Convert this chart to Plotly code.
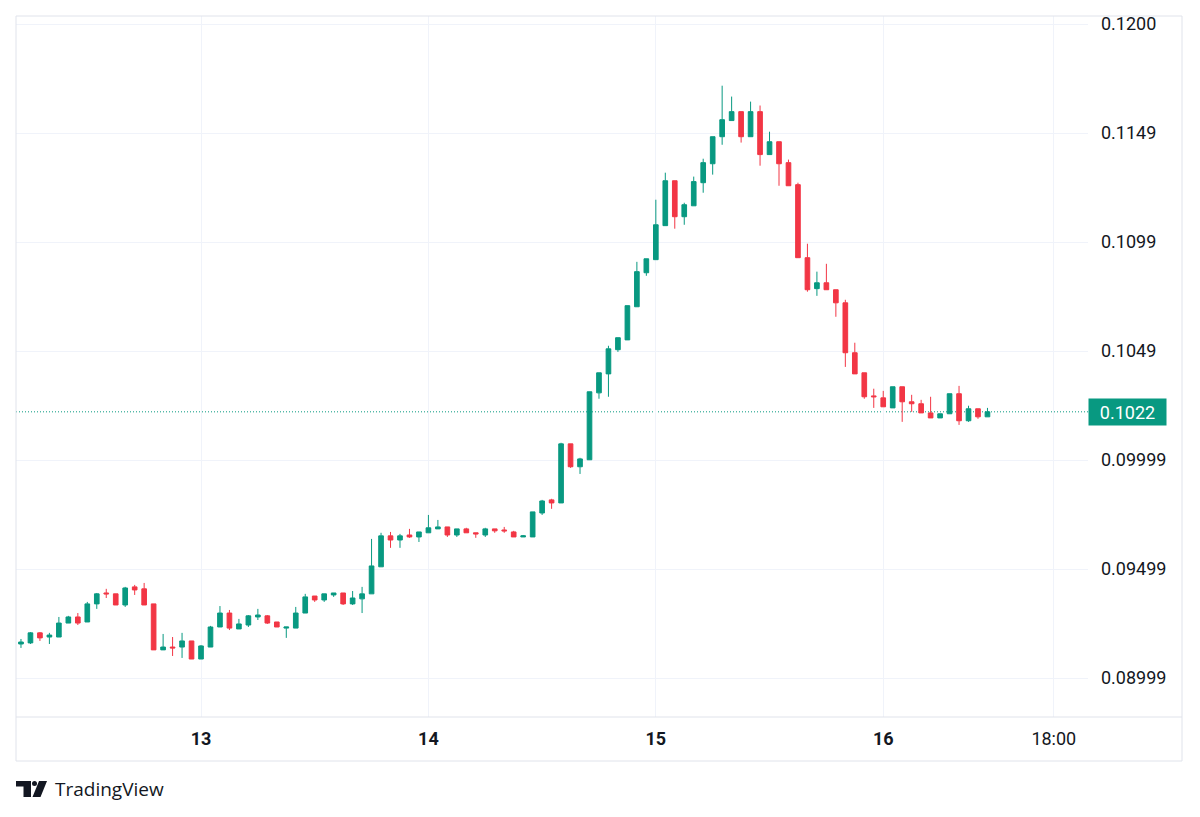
import pandas as pd
import plotly.graph_objects as go

# ---------------- data (hourly candles) ----------------
open_ = [0.09155, 0.09160, 0.09206, 0.09187, 0.09187, 0.09251, 0.09279, 0.09256, 0.09339, 0.09389,
         0.09385, 0.09334, 0.09417, 0.09408, 0.09339, 0.09128, 0.09141, 0.09141, 0.09169, 0.09086,
         0.09141, 0.09233, 0.09297, 0.09224, 0.09242, 0.09279, 0.09284, 0.09256, 0.09228, 0.09228,
         0.09297, 0.09375, 0.09357, 0.09380, 0.09389, 0.09339, 0.09362, 0.09385, 0.09509, 0.09651,
         0.09632, 0.09655, 0.09646, 0.09665, 0.09683, 0.09692, 0.09655, 0.09683, 0.09665, 0.09655,
         0.09683, 0.09678, 0.09669, 0.09646, 0.09646, 0.09756, 0.09816, 0.09802, 0.10073, 0.09968,
         0.10000, 0.10307, 0.10394, 0.10505, 0.10550, 0.10702, 0.10858, 0.10918, 0.11074, 0.11280,
         0.11115, 0.11165, 0.11271, 0.11358, 0.11482, 0.11556, 0.11597, 0.11482, 0.11597, 0.11400,
         0.11459, 0.11363, 0.11262, 0.10927, 0.10785, 0.10812, 0.10780, 0.10720, 0.10491, 0.10399,
         0.10293, 0.10284, 0.10238, 0.10335, 0.10266, 0.10257, 0.10215, 0.10192, 0.10211, 0.10303,
         0.10179, 0.10234, 0.10197]
high = [0.09178, 0.09210, 0.09210, 0.09206, 0.09279, 0.09284, 0.09297, 0.09348, 0.09389, 0.09408,
        0.09385, 0.09417, 0.09426, 0.09435, 0.09339, 0.09201, 0.09187, 0.09206, 0.09169, 0.09150,
        0.09238, 0.09329, 0.09311, 0.09270, 0.09288, 0.09316, 0.09288, 0.09256, 0.09233, 0.09325,
        0.09385, 0.09375, 0.09385, 0.09389, 0.09389, 0.09398, 0.09417, 0.09637, 0.09665, 0.09669,
        0.09660, 0.09683, 0.09669, 0.09747, 0.09724, 0.09692, 0.09683, 0.09688, 0.09665, 0.09688,
        0.09683, 0.09692, 0.09674, 0.09655, 0.09761, 0.09816, 0.09821, 0.10078, 0.10073, 0.10009,
        0.10312, 0.10399, 0.10523, 0.10560, 0.10707, 0.10908, 0.10922, 0.11193, 0.11317, 0.11280,
        0.11179, 0.11299, 0.11381, 0.11482, 0.11716, 0.11666, 0.11597, 0.11643, 0.11625, 0.11505,
        0.11459, 0.11377, 0.11271, 0.10991, 0.10863, 0.10899, 0.10780, 0.10734, 0.10537, 0.10399,
        0.10326, 0.10316, 0.10335, 0.10335, 0.10298, 0.10275, 0.10289, 0.10211, 0.10303, 0.10339,
        0.10248, 0.10234, 0.10238]
low = [0.09137, 0.09155, 0.09169, 0.09155, 0.09187, 0.09251, 0.09242, 0.09256, 0.09316, 0.09366,
       0.09334, 0.09325, 0.09380, 0.09334, 0.09128, 0.09128, 0.09100, 0.09091, 0.09086, 0.09086,
       0.09141, 0.09233, 0.09219, 0.09224, 0.09233, 0.09265, 0.09247, 0.09233, 0.09183, 0.09228,
       0.09297, 0.09348, 0.09348, 0.09371, 0.09334, 0.09334, 0.09297, 0.09385, 0.09509, 0.09596,
       0.09596, 0.09642, 0.09623, 0.09665, 0.09683, 0.09646, 0.09646, 0.09665, 0.09642, 0.09646,
       0.09665, 0.09665, 0.09646, 0.09646, 0.09646, 0.09747, 0.09775, 0.09802, 0.09963, 0.09935,
       0.10000, 0.10280, 0.10289, 0.10495, 0.10550, 0.10702, 0.10844, 0.10918, 0.11074, 0.11060,
       0.11078, 0.11165, 0.11225, 0.11308, 0.11445, 0.11556, 0.11455, 0.11482, 0.11349, 0.11400,
       0.11257, 0.11257, 0.10927, 0.10771, 0.10752, 0.10780, 0.10656, 0.10426, 0.10394, 0.10280,
       0.10238, 0.10243, 0.10238, 0.10174, 0.10220, 0.10215, 0.10192, 0.10192, 0.10211, 0.10160,
       0.10174, 0.10188, 0.10197]
close = [0.09164, 0.09206, 0.09183, 0.09196, 0.09251, 0.09279, 0.09251, 0.09339, 0.09385, 0.09385,
         0.09334, 0.09412, 0.09403, 0.09334, 0.09128, 0.09141, 0.09137, 0.09169, 0.09086, 0.09146,
         0.09233, 0.09297, 0.09228, 0.09247, 0.09284, 0.09288, 0.09251, 0.09233, 0.09233, 0.09297,
         0.09371, 0.09357, 0.09385, 0.09389, 0.09339, 0.09366, 0.09385, 0.09513, 0.09651, 0.09632,
         0.09651, 0.09646, 0.09669, 0.09688, 0.09692, 0.09655, 0.09683, 0.09665, 0.09660, 0.09683,
         0.09674, 0.09674, 0.09646, 0.09651, 0.09761, 0.09811, 0.09802, 0.10073, 0.09968, 0.10004,
         0.10312, 0.10399, 0.10509, 0.10560, 0.10707, 0.10863, 0.10922, 0.11078, 0.11280, 0.11115,
         0.11170, 0.11276, 0.11363, 0.11482, 0.11560, 0.11597, 0.11482, 0.11597, 0.11400, 0.11459,
         0.11358, 0.11257, 0.10927, 0.10780, 0.10812, 0.10780, 0.10720, 0.10491, 0.10394, 0.10289,
         0.10289, 0.10243, 0.10335, 0.10266, 0.10257, 0.10215, 0.10192, 0.10211, 0.10303, 0.10179,
         0.10234, 0.10197, 0.10220]

start_time = "2025-03-12 05:00"
times = pd.date_range(start_time, periods=len(open_), freq="h")

y_tickvals = [0.08999, 0.09499, 0.09999, 0.10499, 0.10999, 0.11499, 0.11999]
y_ticktext = ["0.08999", "0.09499", "0.09999", "0.1049", "0.1099", "0.1149", "0.1200"]
x_tickvals = ["2025-03-13", "2025-03-14", "2025-03-15", "2025-03-16", "2025-03-16 18:00"]
x_ticktext = ["<b>13</b>", "<b>14</b>", "<b>15</b>", "<b>16</b>", "18:00"]
last_price = 0.1022
last_label = "0.1022"

UP = "#089981"
DOWN = "#F23645"
TXT = "#131722"
GRID = "#f0f3fa"
BORDER = "#e0e3eb"
FONT = "Roboto, sans-serif"

# ---------------- layout geometry (pixels) ----------------
W, H = 1200, 817
L, R, T, B = 16, 1088, 16, 717


def px(x):
    return (x - L) / (R - L)


def py(y):
    return (B - y) / (B - T)


t0 = pd.Timestamp("2025-03-13")
x_range = [t0 - pd.Timedelta(hours=19.525), t0 + pd.Timedelta(hours=93.61)]
y_range = [0.088201, 0.120357]

fig = go.Figure()
fig.add_trace(go.Candlestick(
    x=times, open=open_, high=high, low=low, close=close,
    increasing=dict(line=dict(color=UP, width=1), fillcolor=UP),
    decreasing=dict(line=dict(color=DOWN, width=1), fillcolor=DOWN),
    whiskerwidth=0, showlegend=False,
))

shapes = []
# dotted last-price line
shapes.append(dict(type="line", xref="paper", yref="y", x0=0, x1=1,
                   y0=last_price, y1=last_price,
                   line=dict(color=UP, width=1, dash="1px,2px"), layer="below"))
# outer frame
shapes.append(dict(type="rect", xref="paper", yref="paper", x0=0, x1=px(1182),
                   y0=py(761), y1=1, line=dict(color=BORDER, width=1)))
# time-axis separator
shapes.append(dict(type="line", xref="paper", yref="paper", x0=0, x1=px(1182),
                   y0=0, y1=0, line=dict(color=BORDER, width=1)))

# TradingView logo glyph
def path(points):
    s = "M " + " L ".join(f"{px(a)},{py(b)}" for a, b in points) + " Z"
    return s

shapes.append(dict(type="path", xref="paper", yref="paper",
                   path=path([(16, 781), (31, 781), (31, 797), (23.5, 797), (23.5, 786.5), (16, 786.5)]),
                   fillcolor=TXT, line=dict(width=0)))
shapes.append(dict(type="circle", xref="paper", yref="paper",
                   x0=px(32), x1=px(37), y0=py(786), y1=py(781),
                   fillcolor=TXT, line=dict(width=0)))
shapes.append(dict(type="path", xref="paper", yref="paper",
                   path=path([(39, 781), (47, 781), (40.5, 797), (32.5, 797)]),
                   fillcolor=TXT, line=dict(width=0)))

annotations = [
    dict(xref="paper", yref="y", x=1, y=last_price, xanchor="left", yanchor="middle",
         text=last_label, showarrow=False, bgcolor=UP, width=73, height=22,
         borderpad=2, align="center",
         font=dict(family=FONT, size=18, color="white")),
    dict(xref="paper", yref="paper", x=px(53), y=py(789), xanchor="left", yanchor="middle",
         text="TradingView", showarrow=False,
         font=dict(family="Open Sans, sans-serif", size=19, color=TXT)),
]

fig.update_layout(
    width=W, height=H,
    margin=dict(l=L, r=W - R, t=T, b=H - B, pad=0),
    paper_bgcolor="white", plot_bgcolor="white",
    shapes=shapes, annotations=annotations,
    showlegend=False,
    xaxis=dict(
        type="date", range=x_range, rangeslider=dict(visible=False),
        tickvals=x_tickvals, ticktext=x_ticktext,
        showgrid=True, gridcolor=GRID, gridwidth=1,
        zeroline=False, showline=False, ticks="",
        tickfont=dict(family=FONT, size=18, color=TXT),
        ticklabelstandoff=9, fixedrange=True,
    ),
    yaxis=dict(
        side="right", range=y_range,
        tickvals=y_tickvals, ticktext=y_ticktext,
        showgrid=True, gridcolor=GRID, gridwidth=1,
        zeroline=False, showline=False, ticks="",
        tickfont=dict(family=FONT, size=18, color=TXT),
        ticklabelstandoff=12, fixedrange=True,
    ),
    hovermode=False,
)

fig.write_html("out.html", config=dict(displayModeBar=False))
